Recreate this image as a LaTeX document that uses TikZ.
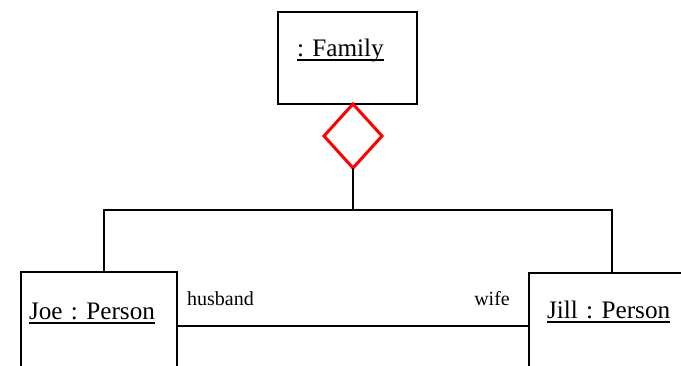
\documentclass[tikz,border=0pt]{standalone}
\usepackage{fontspec}
\setmainfont{Liberation Serif}
\usepackage{xcolor}
\usepackage{tikz}
\usetikzlibrary{positioning,calc,shapes.geometric}
\definecolor{ink}{HTML}{000000}
\definecolor{agg}{HTML}{FF0000}
\newcommand{\objfont}{\fontsize{25.2}{30}\selectfont\frenchspacing}
\newcommand{\rolefont}{\fontsize{20}{24}\selectfont}
% object names are underlined at a fixed distance below the baseline
\newcommand{\ulined}[1]{\setbox0=\hbox{#1}\dp0=0pt%
  \vtop{\copy0\kern2.5pt\hrule height 1.7pt}}
\tikzset{
  objb/.style={draw=ink, line width=2.2pt, anchor=north west, align=left,
               inner ysep=0pt, outer sep=0pt, font=\objfont},
  aggd/.style={diamond, draw=agg, line width=3pt, inner sep=0pt,
               outer sep=0pt, minimum width=58pt, minimum height=64pt},
  link/.style={draw=ink, line width=2.2pt},
  rolelbl/.style={font=\rolefont, inner sep=0pt},
}
\begin{document}
\begin{tikzpicture}[x=1pt, y=-1pt]
  % picture measured in pixels, y downward
  \useasboundingbox (0,0) rectangle (681,366);
  \node[objb, inner xsep=19pt, text width=101pt, text height=45pt,
        text depth=47pt] (family) at (278,12) {\ulined{: Family}};
  \node[aggd] (whole) at (353,136) {};

  \node[objb, inner xsep=8pt, text width=140pt, text height=48pt,
        text depth=100pt] (joe) at (21,272) {\ulined{Joe : Person}};
  \node[objb, inner xsep=18pt, text width=200pt, text height=46pt,
        text depth=100pt] (jill) at (529,273) {\ulined{Jill : Person}};

  % aggregation tree
  \coordinate (bar) at (353,210);
  \draw[link] (whole.south) -- (bar);
  \draw[link] ([xshift=83pt]joe.north west) |- (bar)
              -| ([xshift=83pt]jill.north west);

  % link between the partners
  \coordinate (wed) at (0,326);
  \draw[link] (joe.east |- wed) -- (jill.west |- wed);
  \node[rolelbl, anchor=base west] (husband)
       at ([xshift=10pt, yshift=20pt]joe.east |- wed) {husband};
  \node[rolelbl, anchor=base east] (wife)
       at ([xshift=-19pt, yshift=20pt]jill.west |- wed) {wife};
\end{tikzpicture}
\end{document}
